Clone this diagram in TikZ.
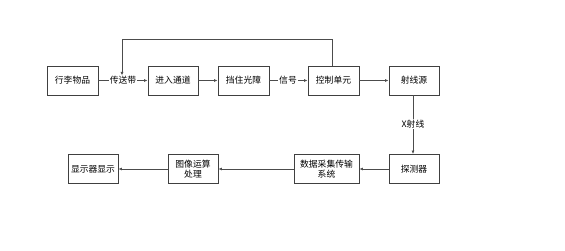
\documentclass[tikz,border=0pt]{standalone}
\usepackage{fontspec}
\setmainfont{Noto Sans CJK SC}
\usetikzlibrary{arrows.meta}
\begin{document}
\begin{tikzpicture}[x=1pt,y=-1pt,
  box/.style={draw=black!75,line width=0.9pt,minimum width=50pt,minimum height=29pt,inner sep=1pt,font=\fontsize{8.8}{10.5}\selectfont,align=center,fill=white},
  lbl/.style={inner sep=0.8pt,font=\fontsize{8.8}{10.5}\selectfont,fill=white},
  conn/.style={draw=black!70,line width=0.7pt},
  arr/.style={conn,-{Latex[length=3.5pt,width=3pt]}}]
\useasboundingbox (0,0) rectangle (565,250);
\node[box,minimum width=51pt] (a) at (72.5,80.5) {行李物品};
\node[box] (b) at (173,80.5) {进入通道};
\node[box,minimum width=51pt] (c) at (243.5,80.5) {挡住光障};
\node[box,minimum width=51pt] (d) at (333.5,80.5) {控制单元};
\node[box] (e) at (414,80.5) {射线源};
\node[box] (f) at (414,169) {探测器};
\node[box,minimum width=65pt] (g) at (326.5,169) {数据采集传输\\系统};
\node[box] (h) at (193,169) {图像运算\\处理};
\node[box] (i) at (93,169) {显示器显示};
\node[lbl] (l1) at (123,80.5) {传送带};
\node[lbl] (l2) at (288,80.5) {信号};
\node[lbl] (l3) at (413,124) {X射线};
\coordinate (t1) at (332,39);
\coordinate (t2) at (122,39);
\draw[conn] (a) -- (l1);
\draw[arr] (l1) -- (b);
\draw[arr] (b) -- (c);
\draw[conn] (c) -- (l2);
\draw[arr] (l2) -- (d);
\draw[arr] (d) -- (e);
\draw[arr] (d.north -| t1) -- (t1) -- (t2) -- (l1.north -| t2);
\draw[conn] (e.south -| l3) -- (l3);
\draw[arr] (l3) -- (f.north -| l3);
\draw[arr] (f) -- (g);
\draw[arr] (g) -- (h);
\draw[arr] (h) -- (i);
\end{tikzpicture}
\end{document}
